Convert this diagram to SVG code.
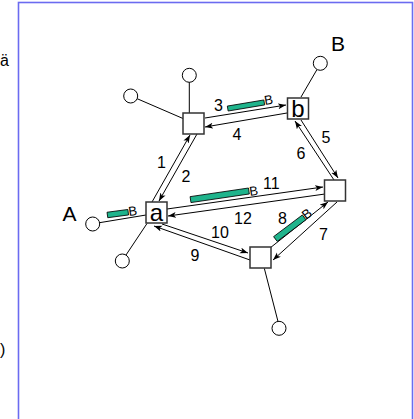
<svg xmlns="http://www.w3.org/2000/svg" width="414" height="419" viewBox="0 0 414 419">
<defs>
<style>
.frame{fill:#fff;stroke:#6b6bf0;stroke-width:1.6}
.sq{fill:#fff;stroke:#333;stroke-width:1.5}
.ci{fill:#fff;stroke:#000;stroke-width:1}
.sp{stroke:#000;stroke-width:1;fill:none}
.ed{stroke:#000;stroke-width:1;fill:none;marker-end:url(#ah)}
.bar{fill:#1fb48c;stroke:#000;stroke-width:0.8}
.t{font-family:"Liberation Sans",Arial,sans-serif;fill:#000}
.n{font-size:16px}
.sb{font-size:13px}
.big{font-size:21px}
.nl{font-size:24px;text-anchor:middle}
</style>
<marker id="ah" markerUnits="userSpaceOnUse" markerWidth="9" markerHeight="7" refX="8" refY="3" orient="auto">
<path d="M0,0 L8,3 L0,6 L2,3 z" fill="#000"/>
</marker>
</defs>
<rect class="frame" x="18.5" y="2.5" width="394" height="420"/>
<text class="t n" x="0" y="66">ä</text>
<text class="t n" x="0" y="355">)</text>

<g id="connectors">
<line class="ed" x1="152" y1="202" x2="190" y2="135"/>
<line class="ed" x1="197" y1="134" x2="159" y2="201"/>
<line class="ed" x1="205" y1="118" x2="286" y2="105"/>
<line class="ed" x1="287" y1="113" x2="205" y2="127"/>
<line class="ed" x1="301" y1="120" x2="338" y2="178"/>
<line class="ed" x1="334" y1="180" x2="295" y2="121"/>
<line class="ed" x1="270" y1="248" x2="328" y2="202"/>
<line class="ed" x1="337" y1="202" x2="273" y2="260"/>
<line class="ed" x1="162" y1="224" x2="248" y2="253"/>
<line class="ed" x1="250" y1="260" x2="154" y2="226"/>
<line class="ed" x1="167" y1="209" x2="323" y2="187"/>
<line class="ed" x1="325" y1="194" x2="168" y2="216"/>
<line class="sp" x1="189.3" y1="82" x2="189.3" y2="113"/>
<line class="sp" x1="136.7" y1="98.5" x2="183" y2="118.5"/>
<line class="sp" x1="301" y1="97" x2="317" y2="69.5"/>
<line class="sp" x1="99.5" y1="222.7" x2="146" y2="215"/>
<line class="sp" x1="147" y1="223.5" x2="126" y2="255"/>
<line class="sp" x1="264.3" y1="268.3" x2="278" y2="321.5"/>
</g>

<g id="circle-tl1"><circle class="ci" cx="189.3" cy="75.3" r="7"/></g>
<g id="circle-tl2"><circle class="ci" cx="130.7" cy="96" r="7"/></g>
<g id="circle-B"><circle class="ci" cx="320.3" cy="63.3" r="7"/><text class="t big" x="331" y="51">B</text></g>
<g id="circle-A"><circle class="ci" cx="92.7" cy="224" r="7"/><text class="t big" x="62.5" y="221">A</text></g>
<g id="circle-bl"><circle class="ci" cx="122.3" cy="261" r="7"/></g>
<g id="circle-bottom"><circle class="ci" cx="279" cy="328.3" r="7"/></g>

<g id="node-tl"><rect class="sq" x="183" y="113" width="21" height="21"/></g>
<g id="node-b"><rect class="sq" x="287.5" y="98" width="21" height="21"/><text class="t nl" x="298" y="117">b</text></g>
<g id="node-a"><rect class="sq" x="146" y="202" width="21" height="21"/><text class="t nl" x="156.5" y="220.5">a</text></g>
<g id="node-r"><rect class="sq" x="324.5" y="180" width="21" height="21"/></g>
<g id="node-bot"><rect class="sq" x="250" y="247" width="21" height="21"/></g>

<g id="packets">
<rect class="bar" x="-18.5" y="-2.5" width="37" height="5" transform="translate(246,105.5) rotate(-9.5)"/>
<text class="t sb" transform="translate(265,105) rotate(-9.5)">B</text>
<rect class="bar" x="-29.5" y="-3" width="59" height="6" transform="translate(219.7,195.3) rotate(-8.4)"/>
<text class="t sb" transform="translate(250,196) rotate(-8.4)">B</text>
<rect class="bar" x="-10.5" y="-2.75" width="21" height="5.5" transform="translate(117.8,213.6) rotate(-7.6)"/>
<text class="t sb" transform="translate(129,216) rotate(-7.6)">B</text>
<rect class="bar" x="-18" y="-3" width="36" height="6" transform="translate(289.8,228.2) rotate(-37)"/>
<text class="t sb" transform="translate(306,220) rotate(-37)">B</text>
</g>

<g id="labels">
<text class="t n" x="214" y="111">3</text>
<text class="t n" x="232.5" y="140">4</text>
<text class="t n" x="157" y="168.3">1</text>
<text class="t n" x="181.5" y="181.7">2</text>
<text class="t n" x="321.5" y="143.3">5</text>
<text class="t n" x="296.5" y="158.7">6</text>
<text class="t n" x="263" y="189">11</text>
<text class="t n" x="234" y="224">12</text>
<text class="t n" x="278" y="224">8</text>
<text class="t n" x="319" y="240">7</text>
<text class="t n" x="211" y="238">10</text>
<text class="t n" x="190.5" y="260.7">9</text>
</g>
</svg>
